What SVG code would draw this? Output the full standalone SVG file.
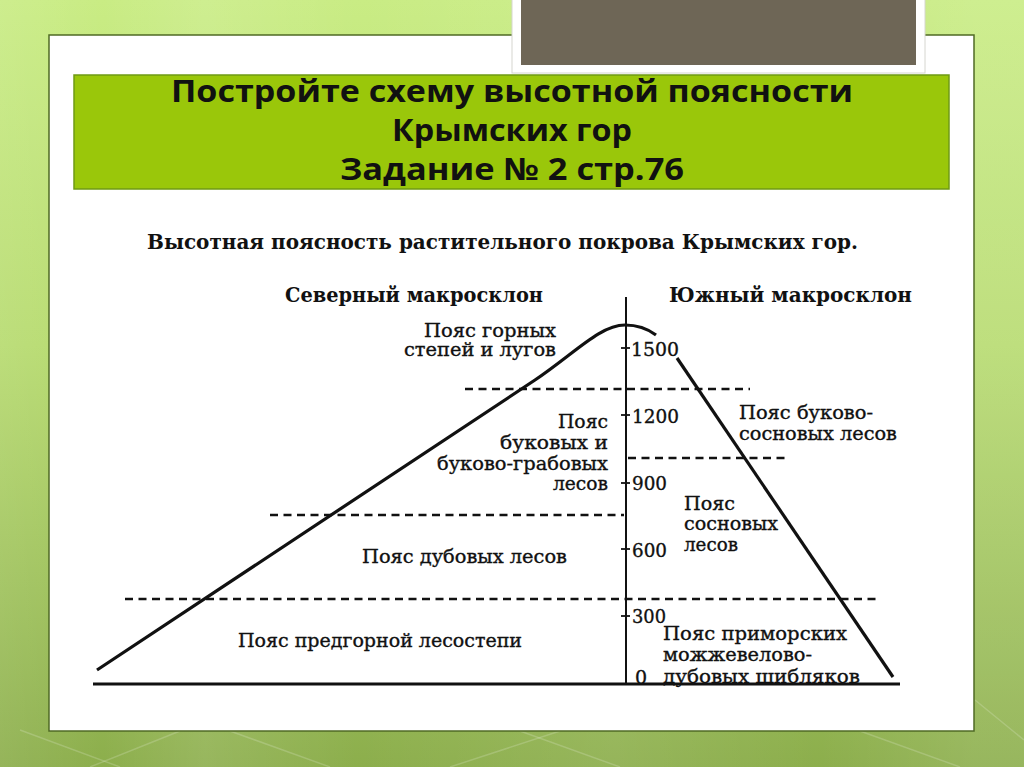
<svg xmlns="http://www.w3.org/2000/svg" width="1024" height="767" viewBox="0 0 1024 767">
  <defs>
    <linearGradient id="bg" x1="0" y1="0" x2="0" y2="1">
      <stop offset="0" stop-color="#c9ec84"/>
      <stop offset="0.45" stop-color="#b7db70"/>
      <stop offset="1" stop-color="#8cae4c"/>
    </linearGradient>
    <linearGradient id="stripes" x1="0" y1="0" x2="1" y2="0">
      <stop offset="0" stop-color="#ffffff" stop-opacity="0.08"/>
      <stop offset="0.1" stop-color="#ffffff" stop-opacity="0"/>
      <stop offset="0.2" stop-color="#ffffff" stop-opacity="0.1"/>
      <stop offset="0.35" stop-color="#ffffff" stop-opacity="0"/>
      <stop offset="0.6" stop-color="#ffffff" stop-opacity="0.08"/>
      <stop offset="0.8" stop-color="#ffffff" stop-opacity="0"/>
      <stop offset="0.95" stop-color="#ffffff" stop-opacity="0.1"/>
    </linearGradient>
    <style>
      .title { font-family: "Open Sans", "Liberation Sans", sans-serif; font-weight: 700; font-size: 31px; fill: #111; }
      .lbl { font-family: "DejaVu Serif", "Liberation Serif", serif; font-size: 18px; fill: #111; stroke: #111; stroke-width: 0.35; }
      .head { font-family: "DejaVu Serif", "Liberation Serif", serif; font-weight: 700; font-size: 21px; fill: #111; }
      .num { font-family: "DejaVu Serif", "Liberation Serif", serif; font-size: 19px; fill: #111; stroke: #111; stroke-width: 0.35; }
      .dash { stroke: #111; stroke-width: 2.5; stroke-dasharray: 8 5.5; fill: none; }
      .solid { stroke: #111; fill: none; }
    </style>
  </defs>

  <!-- background -->
  <rect x="0" y="0" width="1024" height="767" fill="url(#bg)"/>
  <rect x="0" y="0" width="1024" height="767" fill="url(#stripes)"/>
  <g stroke="#ffffff" stroke-opacity="0.18" stroke-width="1.5" fill="none">
    <path d="M20 730 L120 767"/>
    <path d="M90 767 L180 731"/>
    <path d="M230 731 L330 767"/>
    <path d="M560 731 L450 767"/>
    <path d="M520 731 L620 767"/>
    <path d="M860 731 L960 767"/>
    <path d="M975 700 L1024 740"/>
  </g>

  <!-- slide panel -->
  <g id="panel">
    <rect x="49" y="35" width="925" height="696" fill="#ffffff" stroke="#4f6a25" stroke-width="1.5"/>
  </g>

  <!-- gray box at top -->
  <g id="graybox">
    <rect x="512" y="-2" width="413" height="75" fill="#ffffff" stroke="#d6d6d0" stroke-width="1"/>
    <rect x="521" y="-2" width="395" height="67" fill="#6e6656"/>
  </g>

  <!-- title -->
  <g id="title">
    <rect x="74" y="75" width="875" height="114" fill="#9ac70a" stroke="#6f9a14" stroke-width="1.5"/>
    <text class="title" x="512" y="102" text-anchor="middle" textLength="682" lengthAdjust="spacingAndGlyphs">Постройте схему высотной поясности</text>
    <text class="title" x="512" y="141" text-anchor="middle" textLength="240" lengthAdjust="spacingAndGlyphs">Крымских гор</text>
    <text class="title" x="512" y="180" text-anchor="middle" textLength="344" lengthAdjust="spacingAndGlyphs">Задание № 2 стр.76</text>
  </g>

  <!-- heading -->
  <g id="heading">
    <text class="head" x="147" y="249" textLength="711" lengthAdjust="spacingAndGlyphs">Высотная поясность растительного покрова Крымских гор.</text>
    <text class="head" x="285" y="302" textLength="258" lengthAdjust="spacingAndGlyphs">Северный макросклон</text>
    <text class="head" x="669" y="302" textLength="243" lengthAdjust="spacingAndGlyphs">Южный макросклон</text>
  </g>

  <!-- connectors: axes, mountain profile, belt boundaries -->
  <g id="connectors">
    <line class="solid" x1="626" y1="297" x2="626" y2="684" stroke-width="2"/>
    <line class="solid" x1="93" y1="684" x2="900" y2="684" stroke-width="3"/>
    <g class="solid" stroke-width="1.8">
      <line x1="621" y1="348" x2="630" y2="348"/>
      <line x1="621" y1="415" x2="630" y2="415"/>
      <line x1="621" y1="483" x2="630" y2="483"/>
      <line x1="621" y1="549" x2="630" y2="549"/>
      <line x1="621" y1="616" x2="630" y2="616"/>
    </g>
    <path class="solid" stroke-width="3.2" d="M97,670 L535,380 C575,353 600,325 625,325 C638,325 648,329 656,335"/>
    <line class="solid" stroke-width="3.2" x1="677" y1="358" x2="893" y2="677"/>
    <line class="dash" x1="465" y1="389" x2="750" y2="389"/>
    <line class="dash" x1="628" y1="458" x2="787" y2="458"/>
    <line class="dash" x1="270" y1="515" x2="624" y2="515"/>
    <line class="dash" x1="125" y1="599" x2="880" y2="599"/>
  </g>

  <!-- altitude numbers -->
  <g id="altitudes">
    <text class="num" x="631" y="356" textLength="48" lengthAdjust="spacingAndGlyphs">1500</text>
    <text class="num" x="632" y="423" textLength="47" lengthAdjust="spacingAndGlyphs">1200</text>
    <text class="num" x="632" y="490" textLength="35" lengthAdjust="spacingAndGlyphs">900</text>
    <text class="num" x="632" y="557" textLength="35" lengthAdjust="spacingAndGlyphs">600</text>
    <text class="num" x="632" y="623" textLength="34" lengthAdjust="spacingAndGlyphs">300</text>
    <text class="num" x="635" y="684">0</text>
  </g>

  <!-- northern slope belts -->
  <g id="belt-steppe">
    <text class="lbl" x="556" y="337" text-anchor="end" textLength="132" lengthAdjust="spacingAndGlyphs">Пояс горных</text>
    <text class="lbl" x="556" y="356" text-anchor="end" textLength="152" lengthAdjust="spacingAndGlyphs">степей и лугов</text>
  </g>
  <g id="belt-beech">
    <text class="lbl" x="608" y="428" text-anchor="end" textLength="50" lengthAdjust="spacingAndGlyphs">Пояс</text>
    <text class="lbl" x="608" y="449" text-anchor="end" textLength="108" lengthAdjust="spacingAndGlyphs">буковых и</text>
    <text class="lbl" x="608" y="470" text-anchor="end" textLength="171" lengthAdjust="spacingAndGlyphs">буково-грабовых</text>
    <text class="lbl" x="608" y="490" text-anchor="end" textLength="55" lengthAdjust="spacingAndGlyphs">лесов</text>
  </g>
  <g id="belt-oak">
    <text class="lbl" x="362" y="563" textLength="205" lengthAdjust="spacingAndGlyphs">Пояс дубовых лесов</text>
  </g>
  <g id="belt-foothill">
    <text class="lbl" x="238" y="647" textLength="284" lengthAdjust="spacingAndGlyphs">Пояс предгорной лесостепи</text>
  </g>

  <!-- southern slope belts -->
  <g id="belt-beech-pine">
    <text class="lbl" x="739" y="419" textLength="134" lengthAdjust="spacingAndGlyphs">Пояс буково-</text>
    <text class="lbl" x="739" y="440" textLength="158" lengthAdjust="spacingAndGlyphs">сосновых лесов</text>
  </g>
  <g id="belt-pine">
    <text class="lbl" x="684" y="510" textLength="51" lengthAdjust="spacingAndGlyphs">Пояс</text>
    <text class="lbl" x="684" y="530" textLength="94" lengthAdjust="spacingAndGlyphs">сосновых</text>
    <text class="lbl" x="684" y="551" textLength="54" lengthAdjust="spacingAndGlyphs">лесов</text>
  </g>
  <g id="belt-shiblyak">
    <text class="lbl" x="663" y="640" textLength="184" lengthAdjust="spacingAndGlyphs">Пояс приморских</text>
    <text class="lbl" x="663" y="661" textLength="149" lengthAdjust="spacingAndGlyphs">можжевелово-</text>
    <text class="lbl" x="663" y="683" textLength="197" lengthAdjust="spacingAndGlyphs">дубовых шибляков</text>
  </g>
</svg>
